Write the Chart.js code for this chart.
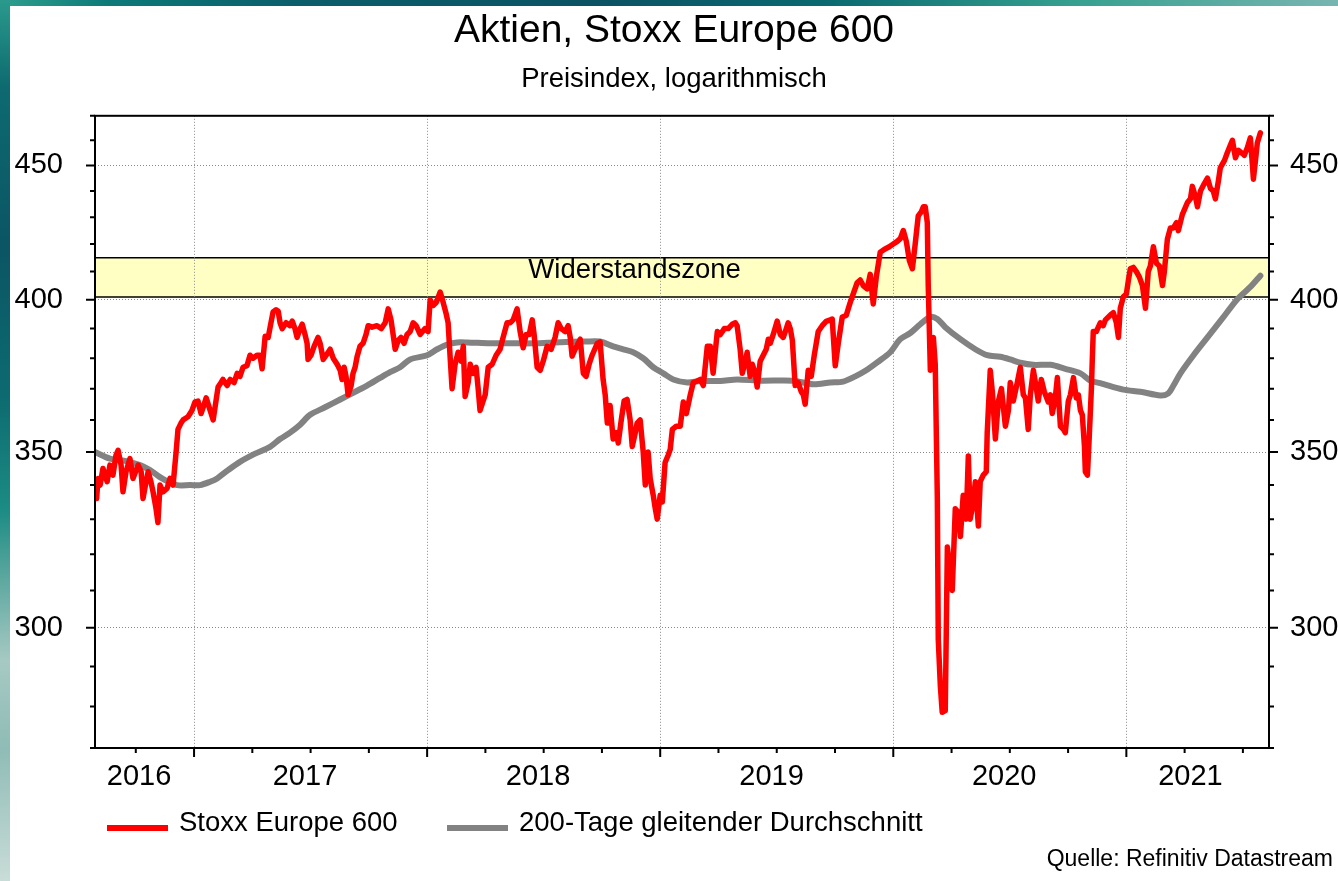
<!DOCTYPE html>
<html>
<head>
<meta charset="utf-8">
<script src="https://cdn.jsdelivr.net/npm/chart.js@4.4.1/dist/chart.umd.min.js"></script>
<style>
html,body{margin:0;padding:0;}
body{width:1338px;height:881px;position:relative;overflow:hidden;background:#fff;}
#frameTop{position:absolute;left:0;top:0;width:1338px;height:6px;
 background:linear-gradient(90deg,#2f9f8e 0%,#0d7a78 8%,#0a5e6a 22%,#0b5263 45%,#0a6a70 62%,#35a08f 80%,#78b5b0 100%);}
#frameLeft{position:absolute;left:0;top:0;width:10px;height:881px;
 background:linear-gradient(180deg,#2a9a8c 0%,#0d6a70 10%,#0b5564 28%,#0c6b70 45%,#1c8c84 58%,#5fa9a0 66%,#a6c9c3 75%,#8fbcb6 85%,#c9dcd8 100%);}
canvas{position:absolute;left:0;top:0;}
</style>
</head>
<body>
<div id="frameTop"></div>
<div id="frameLeft"></div>
<canvas id="c" width="1338" height="881"></canvas>
<script>
// ---------- DATA ----------
const title = 'Aktien, Stoxx Europe 600';
const subtitle = 'Preisindex, logarithmisch';
const seriesNames = ['Stoxx Europe 600', '200-Tage gleitender Durchschnitt'];
const sourceText = 'Quelle: Refinitiv Datastream';
const zoneText = 'Widerstandszone';
const zoneLow = 401, zoneHigh = 415;
const zoneTextAt = [2018.89, 410.5];

const yMin = 270, yMax = 470;
const yTickValues = [270,280,290,300,310,320,330,340,350,360,370,380,390,400,410,420,430,440,450,460,470];
const yTickLabels = [300,350,400,450];

const xMin = 2016.575, xMax = 2021.612;
const quarterTicks = [2016.75,2017,2017.25,2017.5,2017.75,2018,2018.25,2018.5,2018.75,2019,2019.25,2019.5,2019.75,2020,2020.25,2020.5,2020.75,2021,2021.25,2021.5];
const yearTicks = [2017,2018,2019,2020,2021];
const yearLabels = ['2016','2017','2018','2019','2020','2021'];
const yearLabelAt = [2016.764,2017.476,2018.476,2019.478,2020.476,2021.275];

// Stoxx Europe 600 (decimal year / index level)
const stoxxDates = [
 2016.582,2016.588,2016.597,2016.609,2016.627,2016.639,2016.652,2016.665,2016.674,2016.687,
 2016.695,2016.708,2016.725,2016.738,2016.760,2016.773,2016.781,2016.794,2016.803,2016.815,
 2016.824,2016.837,2016.845,2016.854,2016.867,2016.884,2016.897,2016.910,2016.923,2016.931,
 2016.944,2016.953,2016.974,2016.991,
 2017.004,2017.017,2017.030,2017.039,2017.052,2017.069,2017.082,2017.094,2017.103,2017.116,
 2017.124,2017.142,2017.155,2017.172,2017.185,2017.197,2017.210,2017.227,2017.240,2017.253,
 2017.270,2017.283,2017.292,2017.305,2017.318,2017.330,2017.339,2017.352,2017.361,2017.369,
 2017.378,2017.395,2017.412,2017.421,2017.433,2017.442,2017.455,2017.464,2017.476,2017.485,
 2017.489,2017.502,2017.515,2017.532,2017.541,2017.554,2017.567,2017.584,2017.597,2017.614,
 2017.627,2017.635,2017.644,2017.652,2017.661,2017.674,2017.682,2017.691,2017.700,2017.712,
 2017.725,2017.738,2017.747,2017.764,2017.785,2017.803,2017.820,2017.833,2017.845,2017.854,
 2017.863,2017.876,2017.888,2017.901,2017.914,2017.927,2017.940,2017.953,2017.970,2017.991,
 2018.004,2018.013,2018.026,2018.039,2018.056,2018.069,2018.082,2018.090,2018.099,2018.107,
 2018.120,2018.133,2018.146,2018.155,2018.163,2018.176,2018.185,2018.197,2018.210,2018.219,
 2018.227,2018.240,2018.249,2018.262,2018.279,2018.296,2018.313,2018.326,2018.343,2018.356,
 2018.369,2018.386,2018.399,2018.412,2018.425,2018.438,2018.451,2018.459,2018.472,2018.485,
 2018.498,2018.515,2018.532,2018.549,2018.562,2018.575,2018.592,2018.605,2018.614,2018.622,
 2018.635,2018.648,2018.657,2018.670,2018.682,2018.695,2018.708,2018.730,2018.742,2018.755,
 2018.764,2018.773,2018.785,2018.798,2018.811,2018.820,2018.833,2018.845,2018.858,2018.871,
 2018.880,2018.893,2018.901,2018.914,2018.927,2018.936,2018.948,2018.957,2018.970,2018.979,
 2018.987,
 2019.000,2019.009,2019.021,2019.034,2019.043,2019.052,2019.069,2019.086,2019.099,2019.112,
 2019.129,2019.142,2019.159,2019.172,2019.185,2019.202,2019.215,2019.227,2019.245,2019.258,
 2019.275,2019.292,2019.309,2019.322,2019.330,2019.343,2019.352,2019.365,2019.373,2019.386,
 2019.395,2019.408,2019.416,2019.429,2019.442,2019.455,2019.464,2019.472,2019.485,2019.502,
 2019.515,2019.528,2019.541,2019.549,2019.558,2019.567,2019.579,2019.592,2019.605,2019.614,
 2019.622,2019.635,2019.648,2019.661,2019.678,2019.695,2019.712,2019.730,2019.738,2019.751,
 2019.764,2019.781,2019.798,2019.815,2019.828,2019.845,2019.858,2019.871,2019.888,2019.901,
 2019.914,2019.927,2019.944,2019.961,2019.983,
 2020.000,2020.017,2020.030,2020.043,2020.056,2020.069,2020.082,2020.094,2020.107,2020.120,
 2020.129,2020.137,2020.146,2020.150,2020.159,2020.172,2020.180,2020.189,2020.193,2020.202,
 2020.210,2020.223,2020.232,2020.245,2020.253,2020.266,2020.279,2020.288,2020.300,2020.313,
 2020.322,2020.330,2020.343,2020.352,2020.365,2020.373,2020.386,2020.399,2020.403,2020.416,
 2020.425,2020.438,2020.451,2020.464,2020.481,2020.494,2020.502,2020.515,2020.532,2020.545,
 2020.558,2020.567,2020.579,2020.588,2020.601,2020.614,2020.622,2020.635,2020.648,2020.665,
 2020.674,2020.682,2020.695,2020.704,2020.717,2020.730,2020.738,2020.751,2020.760,2020.773,
 2020.785,2020.794,2020.803,2020.811,2020.820,2020.824,2020.833,2020.841,2020.850,2020.854,
 2020.858,2020.871,2020.888,2020.901,2020.910,2020.923,2020.936,2020.944,2020.957,2020.966,
 2020.974,2020.987,
 2021.000,2021.009,2021.017,2021.030,2021.043,2021.056,2021.069,2021.082,2021.094,2021.103,
 2021.116,2021.129,2021.142,2021.155,2021.163,2021.176,2021.189,2021.202,2021.215,2021.223,
 2021.240,2021.262,2021.275,2021.283,2021.296,2021.305,2021.318,2021.335,2021.348,2021.361,
 2021.373,2021.382,2021.395,2021.403,2021.421,2021.433,2021.446,2021.455,2021.468,2021.481,
 2021.494,2021.506,2021.519,2021.532,2021.541,2021.545,2021.554,2021.562,2021.575
];
const stoxxValues = [
 336,342,340,345,341,346,343,349,350.5,346,
 338,344,348,342,346,344,336,341,344,341,
 338,333,329,340,338,339,342,340,350,357,
 359,360,361,363,
 365.7,366,362,364,367,363,360,366,370.5,372,
 373,371,373,372,375,374,377,377.5,381,380,
 381,381,376.5,387.4,387,392,395.7,396.5,396,392,
 390,392,391,392.6,390,387,390,391.5,388,385,
 379.6,381,384,387,385,379.6,381,383,380,378,
 376,373,377,374,368,371,375,377,380.7,384,
 385,388,391,390.5,391,390,392,396.8,393,388,
 383,386,387,385,388,389,392,391,388,390,
 389,400,398,399,402.7,399,395,392,380,370,
 378,382,379,384,367.5,372,378,375,377,370,
 363,366,368,377,378,381,383,387,392,392,
 393,396.8,389,383.5,388,388,393,388,377,376,
 379,384,383,387,392,390,389,391,387,380.7,
 383,385,386.4,375,374,378,381,385,385.5,373,
 368,359,364.6,354,356,352.8,360,366,366.5,360,
 351.7,356,359,360,350,340,350,342,337,333,
 330,
 337,335,346.8,349,350.8,357,358,358,365.7,362,
 368,372,372.5,373,371,384,384,375,389,388,
 390,390,391.5,392,391,383,375,379,382,374,
 378,375,370.5,379,381,383,386.4,385,388,392.6,
 388,387,390,392,390,386,371,372,369,368,
 365,376,374,381,389,391,392.5,393,393.3,377.5,
 385,394,394.5,399,402,406,407,405,403.8,409,
 398.5,408,417,418,419,
 420,421,422,425,421,414,411,420,430.5,432,
 434,434,428,405,376,387,378,336,297,285,
 278.6,279,322,315,310,333,332,325,337,330,
 348.8,330,335,341,328,341,343,344,356,376,
 369,354,366,370,358,363,372,366,372,377,
 368,367,357,368,376,370,366,373,369,365.7,
 368,362,367,373.6,358,357,356,366,368,373.6,
 367,368,363,361.6,352,344,343,355,370,380,
 389,389,392,391,393,394,395,395.5,392,387,
 397,401,
 402,407,411,411.5,410,408,405,397,410,412,
 419,413,412,405,410,421.8,426,426,428,425,
 431,435.6,437,441.8,438,434,440,443,445,441,
 440,437,444,449,452,455,458,460,453,456,
 455,454,457,461,450,444.6,452,459,463
];

// 200-day moving average
const maDates = [
 2016.575,2016.639,2016.704,2016.768,2016.811,2016.841,2016.876,2016.927,2016.983,2017.026,
 2017.069,2017.099,2017.146,2017.197,2017.262,2017.326,2017.369,2017.412,2017.455,2017.498,
 2017.562,2017.627,2017.691,2017.742,2017.798,2017.841,2017.884,2017.927,2018.000,2018.043,
 2018.086,2018.129,2018.172,2018.270,2018.356,2018.455,2018.571,2018.678,2018.742,2018.798,
 2018.841,2018.884,2018.927,2018.970,2019.013,2019.056,2019.116,2019.172,2019.258,2019.330,
 2019.429,2019.571,2019.657,2019.730,2019.785,2019.837,2019.884,2019.931,2019.987,2020.030,
 2020.073,2020.116,2020.159,2020.189,2020.223,2020.288,2020.352,2020.403,2020.459,2020.502,
 2020.545,2020.601,2020.674,2020.738,2020.803,2020.845,2020.888,2020.987,2021.060,2021.146,
 2021.180,2021.202,2021.232,2021.288,2021.348,2021.412,2021.476,2021.532,2021.575
];
const maValues = [
 350,348,347.3,346,344.5,343,341.5,340,340,340,
 341,342,344.5,347,349.5,351.6,354,356,358.5,361.6,
 364,366.5,369,371,373.5,375.4,377,379.6,381,383,
 384.6,385.3,385.3,385,385,385,385.4,385.6,385.6,384,
 383,382,380,377,375,373,372,372.5,372.5,373,
 372.6,372.6,371.4,372,372.3,374,376,378.6,382,386.4,
 388.5,391.5,394,393.3,390.5,386.4,383,381,380.5,379.6,
 378.5,377.8,377.8,376.5,375,372.6,371.8,369.7,369,367.8,
 368.5,371,375,381,387,393.5,400.2,404.5,408.5
];

// ---------- STYLE / LAYOUT ----------
const FONT = "'Liberation Sans', Arial, Helvetica, sans-serif";
const RED = '#ff0000', GREY = '#828282', GRID = '#8a8a8a', BAND = '#ffffc4';
const LEGEND = {x:[107,447], y:828, len:61, gap:11, font:27.5};

Chart.defaults.font.family = FONT;
Chart.defaults.color = '#000';

const toXY = (xs, ys) => xs.map((t, i) => ({x: t, y: ys[i]}));

const bandPlugin = {
  id: 'band',
  beforeDraw(chart) {
    const {ctx, chartArea: a, scales: {x, y}} = chart;
    const yTop = y.getPixelForValue(zoneHigh), yBot = y.getPixelForValue(zoneLow);
    ctx.save();
    ctx.fillStyle = BAND;
    ctx.fillRect(a.left, yTop, a.right - a.left, yBot - yTop);
    ctx.strokeStyle = '#000'; ctx.lineWidth = 1.5;
    ctx.beginPath();
    ctx.moveTo(a.left, yTop); ctx.lineTo(a.right, yTop);
    ctx.moveTo(a.left, yBot); ctx.lineTo(a.right, yBot);
    ctx.stroke();
    ctx.fillStyle = '#000';
    ctx.font = `27.5px ${FONT}`;
    ctx.textAlign = 'center'; ctx.textBaseline = 'middle';
    ctx.fillText(zoneText, x.getPixelForValue(zoneTextAt[0]), y.getPixelForValue(zoneTextAt[1]));
    ctx.restore();
  }
};

const framePlugin = {
  id: 'frame',
  afterDraw(chart) {
    const {ctx, chartArea: a, scales: {x, y}} = chart;
    ctx.save();
    ctx.strokeStyle = '#000'; ctx.lineWidth = 2;
    ctx.beginPath();
    yTickValues.forEach(v => {
      const p = y.getPixelForValue(v);
      const L = yTickLabels.includes(v) ? 9 : 5;
      ctx.moveTo(a.left - L, p); ctx.lineTo(a.left, p);
      ctx.moveTo(a.right, p); ctx.lineTo(a.right + L, p);
    });
    quarterTicks.forEach(v => {
      const p = x.getPixelForValue(v);
      const L = yearTicks.includes(v) ? 9 : 5;
      ctx.moveTo(p, a.bottom); ctx.lineTo(p, a.bottom + L);
    });
    ctx.stroke();
    ctx.strokeRect(a.left, a.top, a.right - a.left, a.bottom - a.top);

    // legend
    ctx.font = `${LEGEND.font}px ${FONT}`;
    ctx.textAlign = 'left'; ctx.textBaseline = 'middle'; ctx.fillStyle = '#000';
    chart.data.datasets.forEach((ds, i) => {
      const x0 = LEGEND.x[i];
      ctx.strokeStyle = ds.borderColor; ctx.lineWidth = 6; ctx.lineCap = 'butt';
      ctx.beginPath(); ctx.moveTo(x0, LEGEND.y); ctx.lineTo(x0 + LEGEND.len, LEGEND.y); ctx.stroke();
      ctx.fillText(ds.label, x0 + LEGEND.len + LEGEND.gap, LEGEND.y - 5);
    });
    // source
    ctx.font = `23px ${FONT}`;
    ctx.textAlign = 'right';
    ctx.fillText(sourceText, 1333, 860);
    ctx.restore();
  }
};

const yAxisBase = {
  type: 'logarithmic', min: yMin, max: yMax, bounds: 'data',
  afterBuildTicks: s => { s.ticks = yTickValues.map(v => ({value: v})); },
  ticks: {
    autoSkip: false, font: {size: 29},
    callback: v => (yTickLabels.includes(v) ? String(v) : '')
  },
  border: {display: false, dash: [1, 2]}
};

new Chart(document.getElementById('c'), {
  type: 'line',
  data: {
    datasets: [
      {label: seriesNames[0], data: toXY(stoxxDates, stoxxValues), borderColor: RED, backgroundColor: RED,
       borderWidth: 5.5, pointRadius: 0, tension: 0, borderJoinStyle: 'round', borderCapStyle: 'round'},
      {label: seriesNames[1], data: toXY(maDates, maValues), borderColor: GREY, backgroundColor: GREY,
       borderWidth: 6, pointRadius: 0, tension: 0.3, borderJoinStyle: 'round', borderCapStyle: 'round'}
    ]
  },
  options: {
    responsive: false, animation: false,
    layout: {padding: {left: 10, right: 0, top: 0, bottom: 0}},
    plugins: {
      legend: {display: false},
      tooltip: {enabled: false},
      title: {display: true, text: title, color: '#000', font: {size: 39, weight: 'normal'}, padding: {top: 8, bottom: 0}},
      subtitle: {display: true, text: subtitle, color: '#000', font: {size: 27.5, weight: 'normal'}, padding: {top: 8, bottom: 20}}
    },
    scales: {
      x: {
        type: 'linear', min: xMin, max: xMax, bounds: 'data',
        afterBuildTicks: s => { s.ticks = [...quarterTicks, ...yearLabelAt].sort((a, b) => a - b).map(v => ({value: v})); },
        afterFit: s => { s.height = 133; },
        ticks: {
          autoSkip: false, maxRotation: 0, padding: 12, font: {size: 29},
          callback: v => { const i = yearLabelAt.indexOf(v); return i >= 0 ? yearLabels[i] : ''; }
        },
        grid: {drawTicks: false, lineWidth: 1,
          color: c => (c.tick && yearTicks.includes(c.tick.value)) ? GRID : 'rgba(0,0,0,0)'},
        border: {display: false, dash: [1, 2]}
      },
      y: Object.assign({}, yAxisBase, {
        position: 'left',
        afterFit: s => { s.width = 85; },
        ticks: Object.assign({}, yAxisBase.ticks, {padding: 32}),
        grid: {drawTicks: false, lineWidth: 1,
          color: c => (c.tick && yTickLabels.includes(c.tick.value)) ? GRID : 'rgba(0,0,0,0)'}
      }),
      y2: Object.assign({}, yAxisBase, {
        position: 'right',
        afterFit: s => { s.width = 69; },
        ticks: Object.assign({}, yAxisBase.ticks, {padding: 21}),
        grid: {drawTicks: false, drawOnChartArea: false}
      })
    }
  },
  plugins: [bandPlugin, framePlugin]
});
</script>
</body>
</html>
